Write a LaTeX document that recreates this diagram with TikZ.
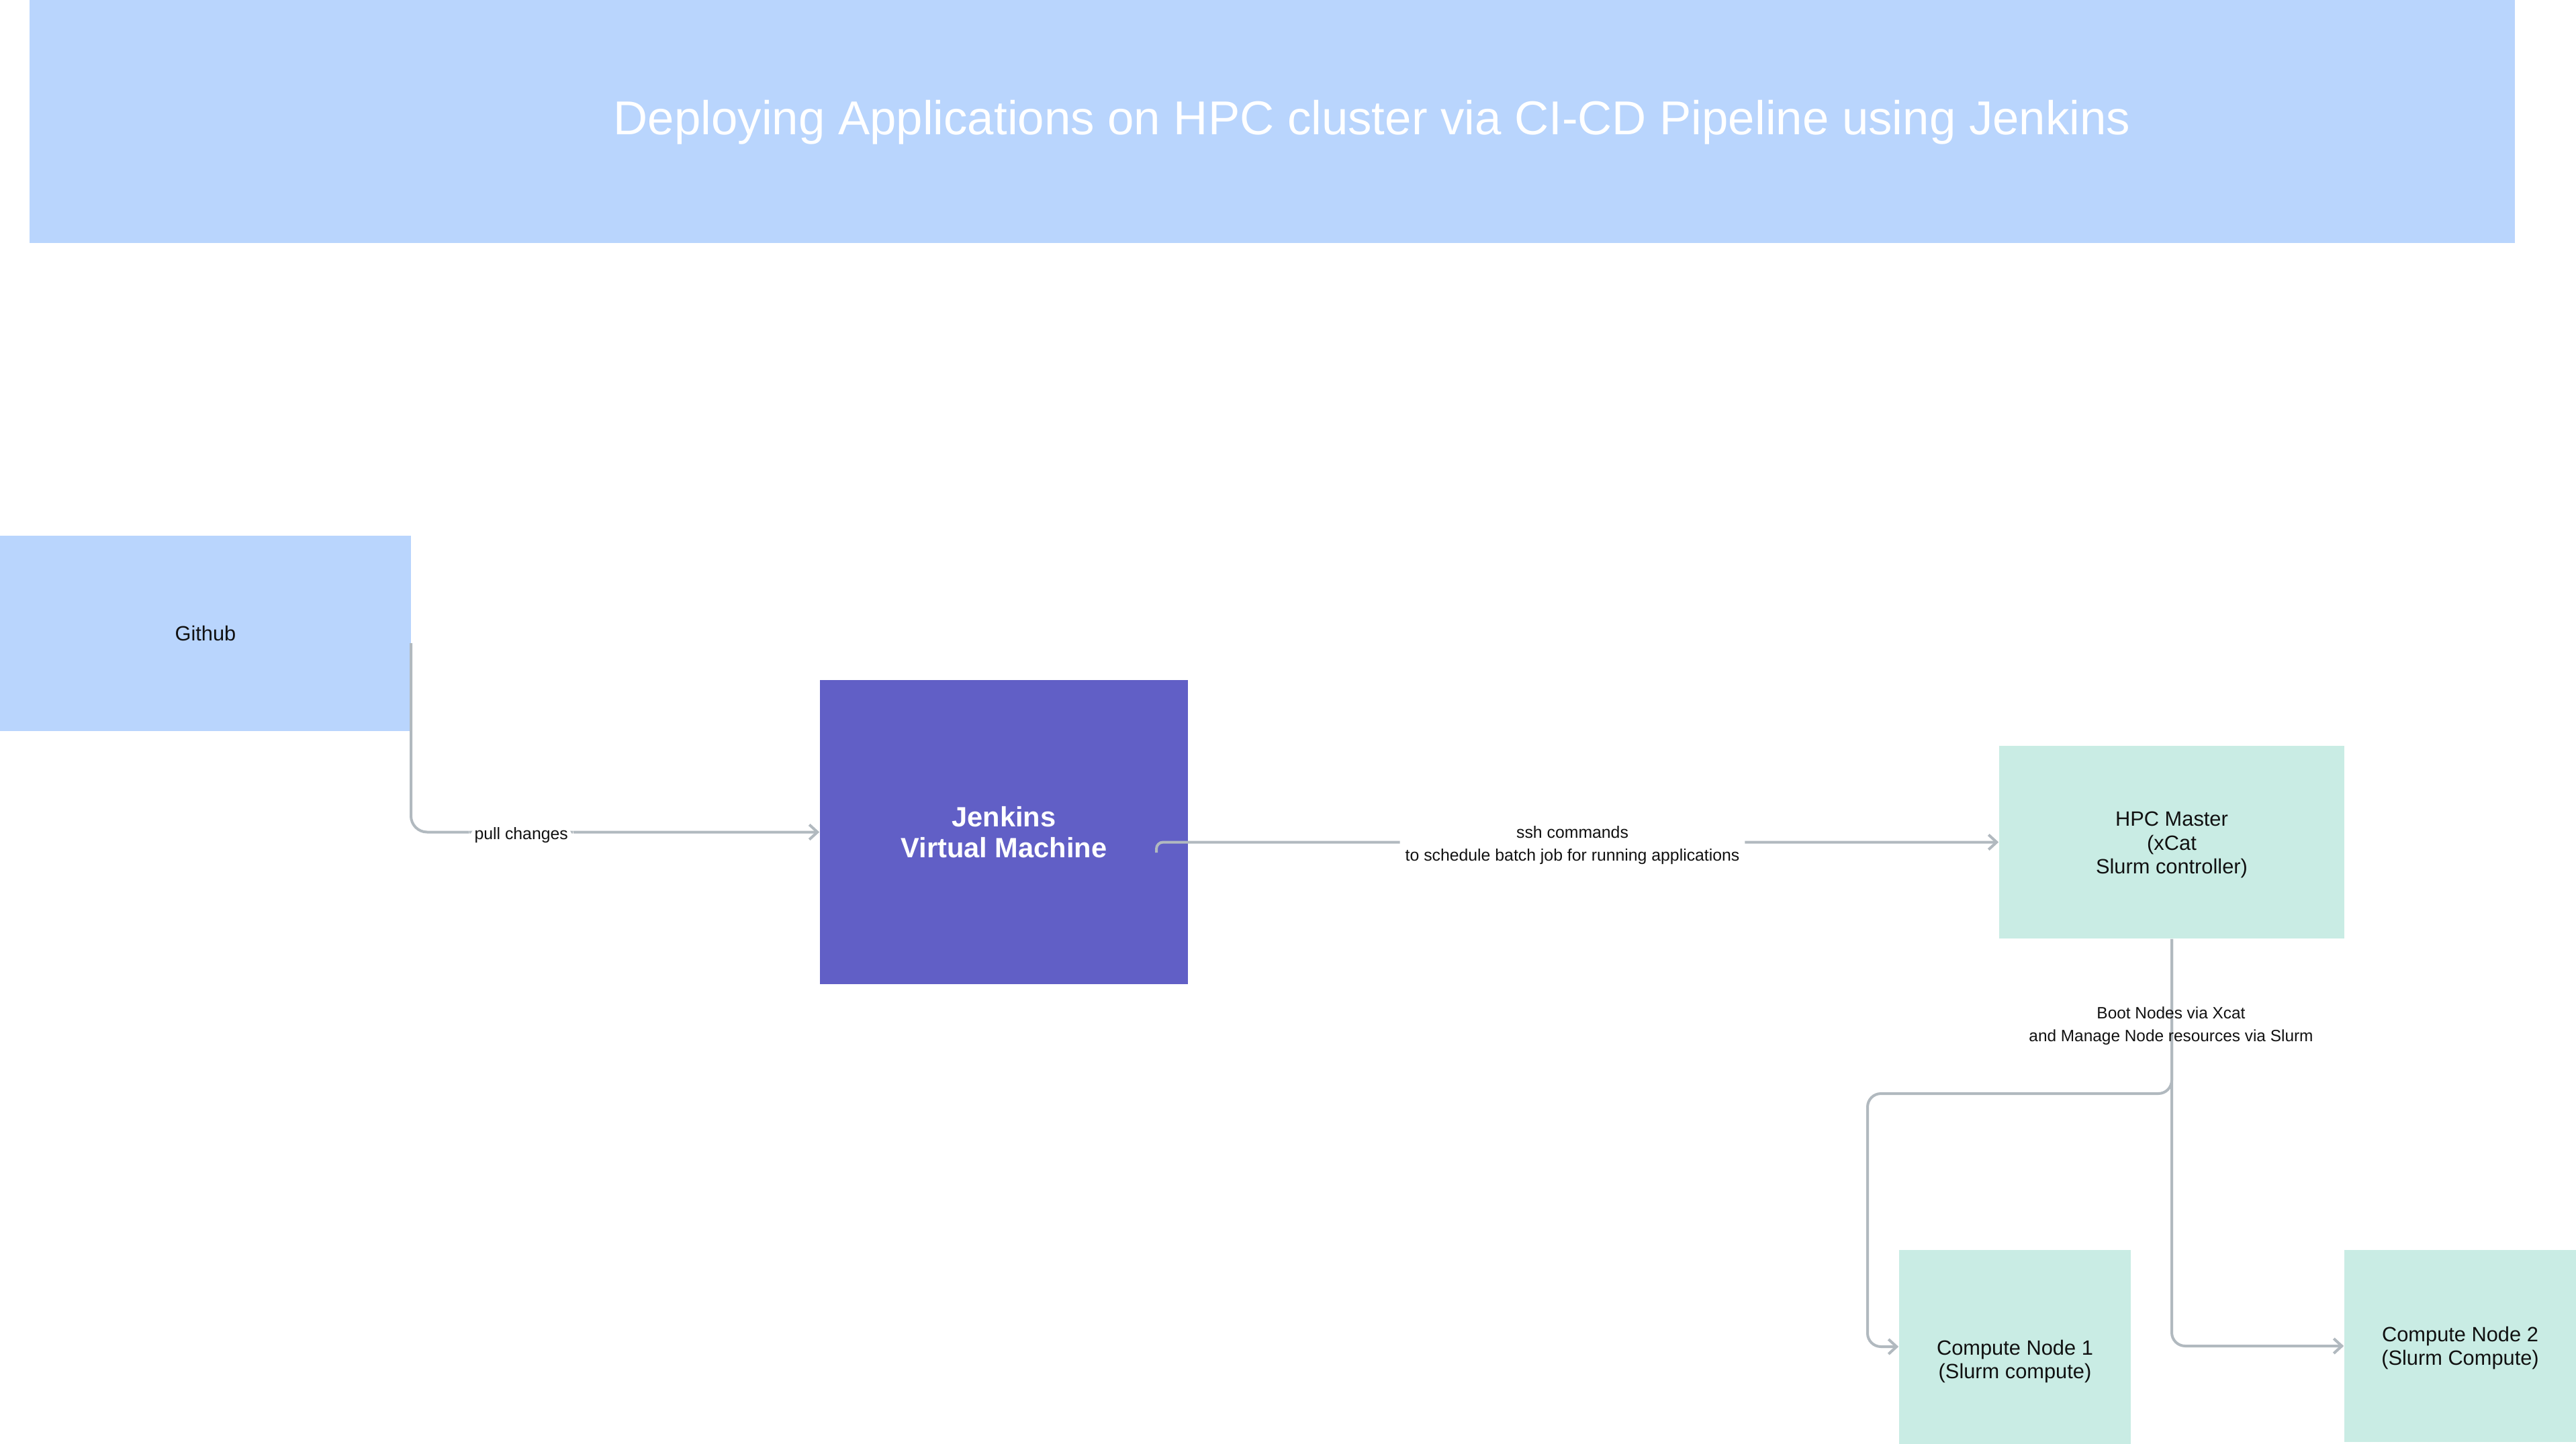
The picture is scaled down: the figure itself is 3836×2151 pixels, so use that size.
\documentclass[tikz,border=0pt]{standalone}
\usepackage{fontspec}
\setmainfont{Liberation Sans}
\usetikzlibrary{arrows.meta,calc}
\definecolor{bannerblue}{HTML}{B9D5FD}
\definecolor{jenkinsblue}{HTML}{615FC6}
\definecolor{mint}{HTML}{C9ECE4}
\definecolor{connGray}{HTML}{B1B9BF}
\definecolor{txt}{HTML}{111111}
\tikzset{
  boxnode/.style={draw=none, inner sep=0pt, align=center, text=txt,
    font=\fontsize{7.7pt}{8.9pt}\selectfont},
  boxtext/.style={inner sep=0pt, align=center, text=txt,
    font=\fontsize{7.7pt}{8.9pt}\selectfont},
  conn/.style={draw=connGray, line width=1pt,
    -{Straight Barb[length=3pt,width=5.5pt,line width=1pt]}},
  lblbg/.style={fill=white, inner xsep=2pt, inner ysep=1pt, align=center, text=txt,
    font=\fontsize{6.2pt}{8.5pt}\selectfont, yshift=-1.1pt},
  lblplain/.style={inner sep=0pt, align=center, text=txt,
    font=\fontsize{6.1pt}{8.5pt}\selectfont},
}
\begin{document}
\begin{tikzpicture}[x=0.25pt, y=-0.25pt]
\clip (0,0) rectangle (3836,2151);
\fill[white] (0,0) rectangle (3836,2151);
% banner
\node[fill=bannerblue, inner sep=0pt, minimum width=925.25pt, minimum height=90.5pt] (banner) at (1894.5,181) {};
\node[anchor=base west, inner sep=0pt, text=white, font=\fontsize{17.7pt}{20pt}\selectfont] (title) at (913,201)
  {Deploying Applications on HPC cluster via CI-CD Pipeline using Jenkins};
% nodes
\node[boxnode, fill=bannerblue, minimum width=153pt, minimum height=72.75pt] (github) at (306,943.5) {Github};
\node[boxnode, fill=jenkinsblue, text=white, minimum width=137pt, minimum height=113.25pt,
  font=\bfseries\fontsize{10.4pt}{11.6pt}\selectfont] (jenkins) at (1495,1239.5) {Jenkins\\Virtual Machine};
\node[boxnode, fill=mint, minimum width=128.5pt, minimum height=71.75pt] (hpc) at (3234,1254.5) {};
\node[boxtext] (hpctext) at ([yshift=-1pt]hpc.center) {HPC Master\\(xCat\\Slurm controller)};
\node[boxnode, fill=mint, minimum width=86.25pt, minimum height=80.5pt] (n1) at (3000.5,2023) {};
\node[boxtext] (n1text) at ([yshift=-1.25pt]n1.center) {Compute Node 1\\(Slurm compute)};
\node[boxnode, fill=mint, minimum width=86.25pt, minimum height=71.5pt] (n2) at (3663.5,2005) {};
\node[boxtext] (n2text) at ([yshift=-0.8pt]n2.center) {Compute Node 2\\(Slurm Compute)};
% connectors
\coordinate (ghout) at (612,958);
\draw[conn, rounded corners=6pt] (ghout) |- node[lblbg, pos=0.635] (lpull) {pull changes} (jenkins.west);
\coordinate (jout) at (1722,1270);
\draw[conn, rounded corners=2.5pt] (jout) |- node[lblbg, pos=0.747] (lssh)
  {ssh commands\\to schedule batch job for running applications} (hpc.west);
\coordinate (branch) at (2781,1629);
\draw[conn, rounded corners=5pt] (hpc.south) |- (branch) |- ([yshift=4.25pt]n1.west);
\draw[conn, rounded corners=5pt] (hpc.south) |- (n2.west);
\node[lblplain] (lboot) at (3233,1528) {Boot Nodes via Xcat\\and Manage Node resources via Slurm};
\end{tikzpicture}
\end{document}
